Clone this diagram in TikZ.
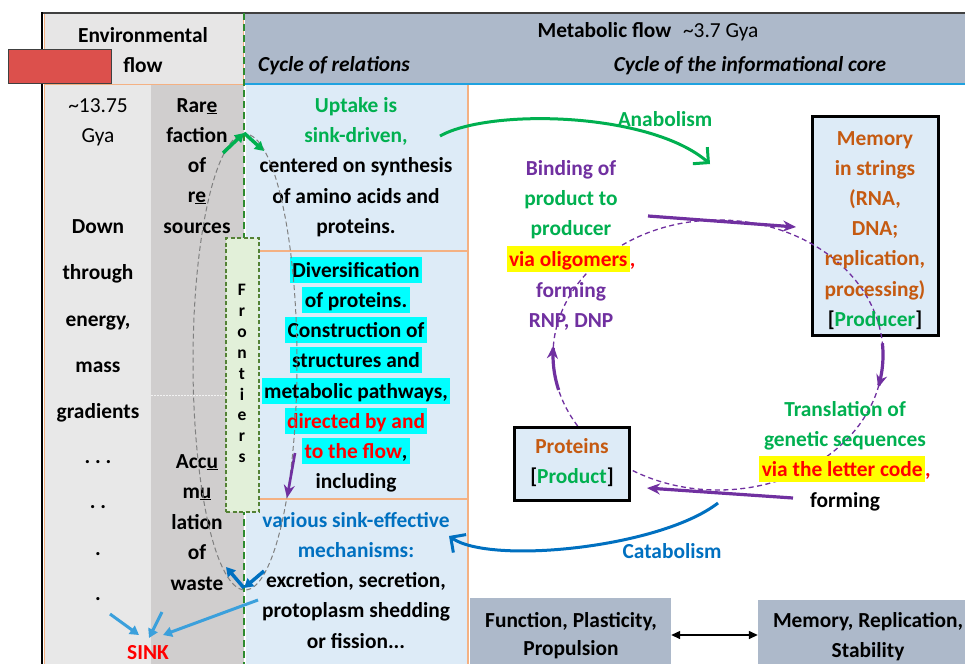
\documentclass[tikz,border=0pt]{standalone}
\usepackage{fontspec}
\setmainfont{Carlito}
\usetikzlibrary{arrows.meta}
\definecolor{hdr}{HTML}{ADB9CA}
\definecolor{peachb}{HTML}{F4B183}
\definecolor{lgrayA}{HTML}{E7E6E6}
\definecolor{lgrayB}{HTML}{E8E8E8}
\definecolor{dgray}{HTML}{D0CECE}
\definecolor{lblue}{HTML}{DDEBF7}
\definecolor{lgreen}{HTML}{E2F0D9}
\definecolor{frgreen}{HTML}{548235}
\definecolor{dashgreen}{HTML}{2E8B2E}
\definecolor{mygreen}{HTML}{00B050}
\definecolor{mypurple}{HTML}{7030A0}
\definecolor{mybrown}{HTML}{C55A11}
\definecolor{myblue}{HTML}{0070C0}
\definecolor{skyblue}{HTML}{3BA0DC}
\definecolor{myred}{HTML}{FF0000}
\definecolor{hlcyan}{HTML}{00FFFF}
\definecolor{hlyellow}{HTML}{FFFF00}
\definecolor{boxred}{HTML}{DC504C}
\definecolor{hdrline}{HTML}{1FA2E0}
\definecolor{darkline}{HTML}{404040}
\newcommand{\hlbox}[2]{{\setlength{\fboxsep}{0pt}\colorbox{#1}{\rule[-5.5pt]{0pt}{26pt}\hspace{2.5pt}#2\hspace{2.5pt}}}}
\begin{document}
\begin{tikzpicture}[x=1pt,y=-1pt,
  tx/.style={font=\fontsize{21.4}{25}\selectfont\bfseries, inner sep=0pt, anchor=base},
  rg/.style={font=\fontsize{21.4}{25}\selectfont, inner sep=0pt, anchor=base},
  bi/.style={font=\fontsize{21.4}{25}\selectfont\bfseries\itshape, inner sep=0pt, anchor=base},
  frl/.style={font=\fontsize{17.5}{17.5}\selectfont\bfseries, inner sep=0pt, anchor=base},
  blk/.style={draw=black, line width=2.6pt, fill=lblue, inner sep=0pt},
  gbox/.style={fill=hdr, inner sep=0pt},
  graydash/.style={draw=gray, line width=1pt, dash pattern=on 5pt off 3pt},
  purpdash/.style={draw=mypurple, line width=1.3pt, dash pattern=on 5pt off 3.5pt},
  parrow/.style={draw=mypurple, line width=3.2pt, -{Stealth[length=13pt,width=11pt]}},
  garrow/.style={draw=mygreen, line width=3.5pt, -{Triangle[length=9pt,width=10pt]}},
  barrow/.style={draw=myblue, line width=3.5pt, -{Triangle[length=9pt,width=10pt]}},
  sarrow/.style={draw=skyblue, line width=3pt, -{Triangle[length=9pt,width=10pt]}},
  curvearrow/.style={line width=3pt, -{Straight Barb[length=11pt,width=22pt]}},
]
\useasboundingbox (0,0) rectangle (965,664);
\fill[white] (0,0) rectangle (965,664);
% background columns
\fill[lgrayB] (44,84) rectangle (151,664);
\fill[dgray] (151,84) rectangle (244,664);
\fill[lblue] (246,84) rectangle (468,664);
\draw[peachb, line width=1.2pt] (468,84) -- (468,664);
\draw[peachb, line width=1.2pt] (246,251) -- (468,251);
\draw[peachb, line width=1.2pt] (246,499) -- (468,499);
\draw[peachb, line width=1pt] (44.5,84) -- (44.5,664);
\draw[white!90!gray, line width=0.6pt, dash pattern=on 2pt off 1pt] (151,395) -- (227,395);
% headers
\draw[draw=peachb, fill=lgrayA, line width=1pt] (44,13) rectangle (243,84);
\fill[hdr] (245,13) rectangle (965,84);
\draw[hdrline, line width=1.8pt] (245,84) -- (965,84);
\draw[darkline, line width=2pt] (42,13) -- (965,13);
\draw[black, line width=2pt] (42,12) -- (42,664);
\draw[dashgreen, line width=2.2pt, dash pattern=on 7pt off 4pt] (244,13) -- (244,664);
\node[draw=black!75, fill=boxred, line width=0.8pt, minimum width=103pt, minimum height=34pt, inner sep=0pt] (redbox) at (60,66) {};
% header text
\node[tx] (envA) at (143,42) {Environmental};
\node[tx] (envB) at (143,72) {flow};
\node[tx] (meta) at (648,37) {Metabolic flow\hspace{0.55em}\mdseries\textasciitilde 3.7 Gya};
\node[bi] (cycR) at (334,71) {Cycle of relations};
\node[bi] (cycI) at (750,71) {Cycle of the informational core};
% column 1
\node[rg] (c1a) at (98,112) {\textasciitilde 13.75};
\node[rg] (c1b) at (98,142) {Gya};
\node[tx] (c1c) at (98,233) {Down};
\node[tx] (c1d) at (98,279) {through};
\node[tx] (c1e) at (98,326) {energy,};
\node[tx] (c1f) at (98,372) {mass};
\node[tx] (c1g) at (98,418) {gradients};
\node[tx] (c1h) at (98,463) {.\ .\ .};
\node[tx] (c1i) at (98,508) {.\ .};
\node[tx] (c1j) at (98,555) {.};
\node[tx] (c1k) at (98,600) {.};
% column 2
\node[tx] (c2a) at (197,112) {Rar\underline{e}};
\node[tx] (c2b) at (197,142) {faction};
\node[tx] (c2c) at (197,172) {of};
\node[tx] (c2d) at (197,202) {r\underline{e}};
\node[tx] (c2e) at (197,233) {sources};
\node[tx] (c2f) at (197,468) {Acc\underline{u}};
\node[tx] (c2g) at (197,498) {m\underline{u}};
\node[tx] (c2h) at (197,529) {lation};
\node[tx] (c2i) at (197,559) {of};
\node[tx] (c2j) at (197,590) {waste};
\node[tx, text=myred] (sink) at (148,659) {SINK};
% frontiers
\node[draw=frgreen, fill=lgreen, line width=1.2pt, dash pattern=on 4pt off 2.5pt, minimum width=33pt, minimum height=274pt, inner sep=0pt] (front) at (242.5,375) {};
\node[frl] (fr1) at (242,295) {F};
\node[frl] (fr2) at (242,316) {r};
\node[frl] (fr3) at (242,337) {o};
\node[frl] (fr4) at (242,358) {n};
\node[frl] (fr5) at (242,379) {t};
\node[frl] (fr6) at (242,400) {i};
\node[frl] (fr7) at (242,420) {e};
\node[frl] (fr8) at (242,441) {r};
\node[frl] (fr9) at (242,462) {s};
% middle column
\node[tx, text=mygreen] (m1) at (356,112) {Uptake is};
\node[tx, text=mygreen] (m2) at (356,142) {sink-driven,};
\node[tx] (m3) at (356,172) {centered on synthesis};
\node[tx] (m4) at (356,203) {of amino acids and};
\node[tx] (m5) at (356,233) {proteins.};
\node[tx] (d1) at (356,277) {\hlbox{hlcyan}{Diversification}};
\node[tx] (d2) at (356,307) {\hlbox{hlcyan}{of proteins.}};
\node[tx] (d3) at (356,337) {\hlbox{hlcyan}{Construction of}};
\node[tx] (d4) at (356,367) {\hlbox{hlcyan}{structures and}};
\node[tx] (d5) at (356,398) {\hlbox{hlcyan}{metabolic pathways,}};
\node[tx] (d6) at (356,428) {\hlbox{hlcyan}{\textcolor{myred}{directed by and}}};
\node[tx] (d7) at (356,458) {\hlbox{hlcyan}{\textcolor{myred}{to the flow},}};
\node[tx] (d8) at (356,488) {including};
\node[tx, text=myblue] (v1) at (356,527) {various sink-effective};
\node[tx, text=myblue] (v2) at (356,557) {mechanisms:};
\node[tx] (v3) at (356,587) {excretion, secretion,};
\node[tx] (v4) at (356,617) {protoplasm shedding};
\node[tx] (v5) at (356,648) {or fission...};
% gray dashed loop
\draw[graydash] (245,362) ellipse [x radius=52pt, y radius=228pt];
% left arrows
\coordinate (gA) at (223,153);
\coordinate (gT) at (244,133);
\coordinate (gB) at (264,151);
\draw[garrow] (gA) -- (gT);
\draw[garrow] (gT) -- (gB);
\coordinate (pA) at (295,453);
\coordinate (pB) at (287,498);
\draw[parrow, line width=2.6pt] (pA) -- (pB);
\coordinate (bT) at (244,588);
\coordinate (bL) at (226,567);
\coordinate (bR) at (264,571);
\draw[barrow] (bT) -- (bL);
\draw[barrow] (bR) -- (bT);
\coordinate (s1a) at (110,614);
\coordinate (s1b) at (139,635);
\coordinate (s2a) at (162,612);
\coordinate (s2b) at (149,638);
\coordinate (s3a) at (258,600);
\coordinate (s3b) at (163,635);
\draw[sarrow] (s1a) -- (s1b);
\draw[sarrow] (s2a) -- (s2b);
\draw[sarrow] (s3a) -- (s3b);
% right side boxes
\node[blk, minimum width=126.5pt, minimum height=219.5pt] (mem) at (875.5,226) {};
\draw[purpdash] (718,355) ellipse [x radius=165pt, y radius=135pt];
\node[blk, minimum width=115.5pt, minimum height=73.5pt] (prot) at (572,464) {};
\node[gbox, minimum width=201pt, minimum height=66pt] (fbox) at (570.5,631) {};
\node[gbox, minimum width=207pt, minimum height=64pt] (sbox) at (861.5,632) {};
% memory text
\node[tx, text=mybrown] (mm1) at (875,145) {Memory};
\node[tx, text=mybrown] (mm2) at (875,175) {in strings};
\node[tx, text=mybrown] (mm3) at (875,205) {(RNA,};
\node[tx, text=mybrown] (mm4) at (875,235) {DNA;};
\node[tx, text=mybrown] (mm5) at (875,265) {replication,};
\node[tx, text=mybrown] (mm6) at (875,296) {processing)};
\node[tx] (mm7) at (875,326) {[\textcolor{mygreen}{Producer}]};
% proteins text
\node[tx, text=mybrown] (pr1) at (572,453) {Proteins};
\node[tx] (pr2) at (572,483) {[\textcolor{mygreen}{Product}]};
% binding text
\node[tx, text=mypurple] (bd1) at (571,175) {Binding of};
\node[tx, text=mygreen] (bd2) at (571,205) {product to};
\node[tx, text=mygreen] (bd3) at (571,235) {producer};
\node[tx] (bd4) at (571,266) {\hlbox{hlyellow}{\textcolor{myred}{via oligomers}}\textcolor{myred}{,}};
\node[tx, text=mypurple] (bd5) at (571,297) {forming};
\node[tx, text=mypurple] (bd6) at (571,327) {RNP, DNP};
% translation text
\node[tx, text=mygreen] (tr1) at (845,416) {Translation of};
\node[tx, text=mygreen] (tr2) at (845,446) {genetic sequences};
\node[tx] (tr3) at (845,476) {\hlbox{hlyellow}{\textcolor{myred}{via the letter code}}\textcolor{myred}{,}};
\node[tx] (tr4) at (845,507) {forming};
% labels
\node[tx, text=mygreen] (anab) at (665,126) {Anabolism};
\node[tx, text=myblue] (catab) at (672,558) {Catabolism};
% bottom texts
\node[tx] (f1) at (571,627) {Function, Plasticity,};
\node[tx] (f2) at (571,655) {Propulsion};
\node[tx] (s1) at (868,627) {Memory, Replication,};
\node[tx] (s2) at (868,657) {Stability};
\draw[line width=1.4pt, {Triangle[length=9pt,width=8pt]}-{Triangle[length=9pt,width=8pt]}] ([yshift=-4pt]fbox.east) -- ([yshift=-3pt]sbox.west);
% purple arrows of the cycle
\coordinate (pu1a) at (648,216);
\coordinate (pu1b) at (796,227);
\draw[parrow] (pu1a) -- (pu1b);
\coordinate (pu2a) at (793,498);
\coordinate (pu2b) at (647,488);
\draw[parrow] (pu2a) -- (pu2b);
\draw[parrow] plot[domain=165:184, samples=20] ({718+165*cos(\x)},{355+135*sin(\x)});
\draw[parrow] plot[domain=-5:14, samples=20] ({718+165*cos(\x)},{355+135*sin(\x)});
% anabolism / catabolism
\coordinate (anA) at (440,136);
\coordinate (anB) at (710,164);
\draw[curvearrow, mygreen] (anA) .. controls (490,108) and (650,112) .. (anB);
\coordinate (caA) at (718,503);
\coordinate (caB) at (449,536);
\draw[curvearrow, myblue] (caA) .. controls (660,548) and (490,565) .. (caB);
\end{tikzpicture}
\end{document}
